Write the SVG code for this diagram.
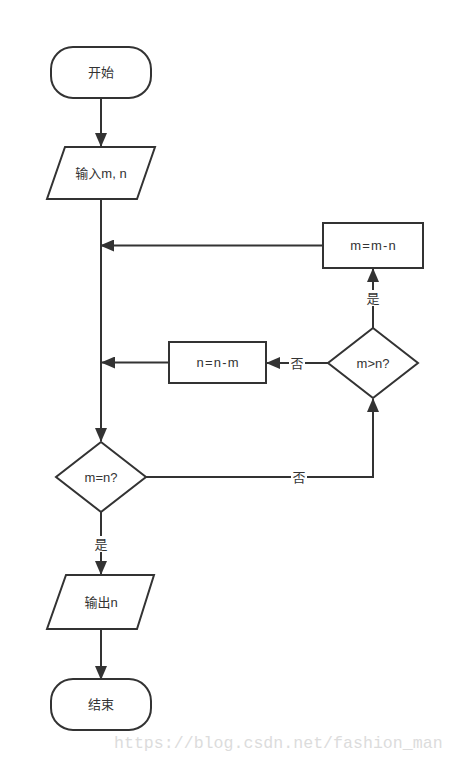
<svg xmlns="http://www.w3.org/2000/svg" width="455" height="762" viewBox="0 0 455 762">
<style>
.s{fill:#fff;stroke:#333;stroke-width:2}
.c{fill:none;stroke:#333;stroke-width:2}
.t{font-family:"Liberation Sans","Noto Sans CJK SC",sans-serif;font-size:13px;fill:#333;text-anchor:middle;dominant-baseline:central}
.sp{letter-spacing:1.2px}
.l{font-family:"Liberation Sans","Noto Sans CJK SC",sans-serif;font-size:13px;fill:#333;text-anchor:middle;dominant-baseline:central}
.w{font-family:"Liberation Mono",monospace;font-size:16.6px;fill:#dcdcdc}
</style>
<defs>
<marker id="a" markerUnits="userSpaceOnUse" markerWidth="14" markerHeight="12" refX="13" refY="6" orient="auto">
<path d="M0,0 L14,6 L0,12 Z" fill="#333"/>
</marker>
</defs>
<g id="connectors">
<path class="c" d="M101,98 V146" marker-end="url(#a)"/>
<path class="c" d="M101,199 V441" marker-end="url(#a)"/>
<path class="c" d="M323,245.5 H101" marker-end="url(#a)"/>
<path class="c" d="M169,362.5 H102" marker-end="url(#a)"/>
<path class="c" d="M373,328 V269" marker-end="url(#a)"/>
<path class="c" d="M328,363 H267" marker-end="url(#a)"/>
<path class="c" d="M146,477 H373 V399" marker-end="url(#a)"/>
<path class="c" d="M101,512 V574" marker-end="url(#a)"/>
<path class="c" d="M101,629 V679" marker-end="url(#a)"/>
<rect x="365" y="290" width="16" height="16" fill="#fff"/>
<text class="l" x="373" y="298">是</text>
<rect x="289" y="355" width="16" height="16" fill="#fff"/>
<text class="l" x="297" y="363">否</text>
<rect x="291" y="469" width="16" height="16" fill="#fff"/>
<text class="l" x="299" y="477">否</text>
<rect x="93" y="536" width="16" height="16" fill="#fff"/>
<text class="l" x="101" y="544">是</text>
</g>
<g id="start">
<rect class="s" x="51" y="47" width="100" height="51" rx="22" ry="22"/>
<text class="t" x="101" y="72.5">开始</text>
</g>
<g id="input">
<polygon class="s" points="65,147 155,147 137,199 47,199"/>
<text class="t" x="101" y="173">输入m, n</text>
</g>
<g id="mmn">
<rect class="s" x="323" y="223" width="100" height="45"/>
<text class="t sp" x="373.6" y="245.5">m=m-n</text>
</g>
<g id="nnm">
<rect class="s" x="169" y="342" width="97" height="41"/>
<text class="t sp" x="218.1" y="362.5">n=n-m</text>
</g>
<g id="mgtn">
<polygon class="s" points="373,328 418,363 373,398 328,363"/>
<text class="t" x="373" y="363">m&gt;n?</text>
</g>
<g id="meqn">
<polygon class="s" points="101,442 146,477 101,512 56,477"/>
<text class="t" x="101" y="477">m=n?</text>
</g>
<g id="output">
<polygon class="s" points="66,575 154,575 137,629 47,629"/>
<text class="t" x="101" y="602">输出n</text>
</g>
<g id="end">
<rect class="s" x="51" y="679" width="100" height="51" rx="22" ry="22"/>
<text class="t" x="101" y="704.5">结束</text>
</g>
<text class="w" x="114" y="748">https://blog.csdn.net/fashion_man</text>
</svg>
